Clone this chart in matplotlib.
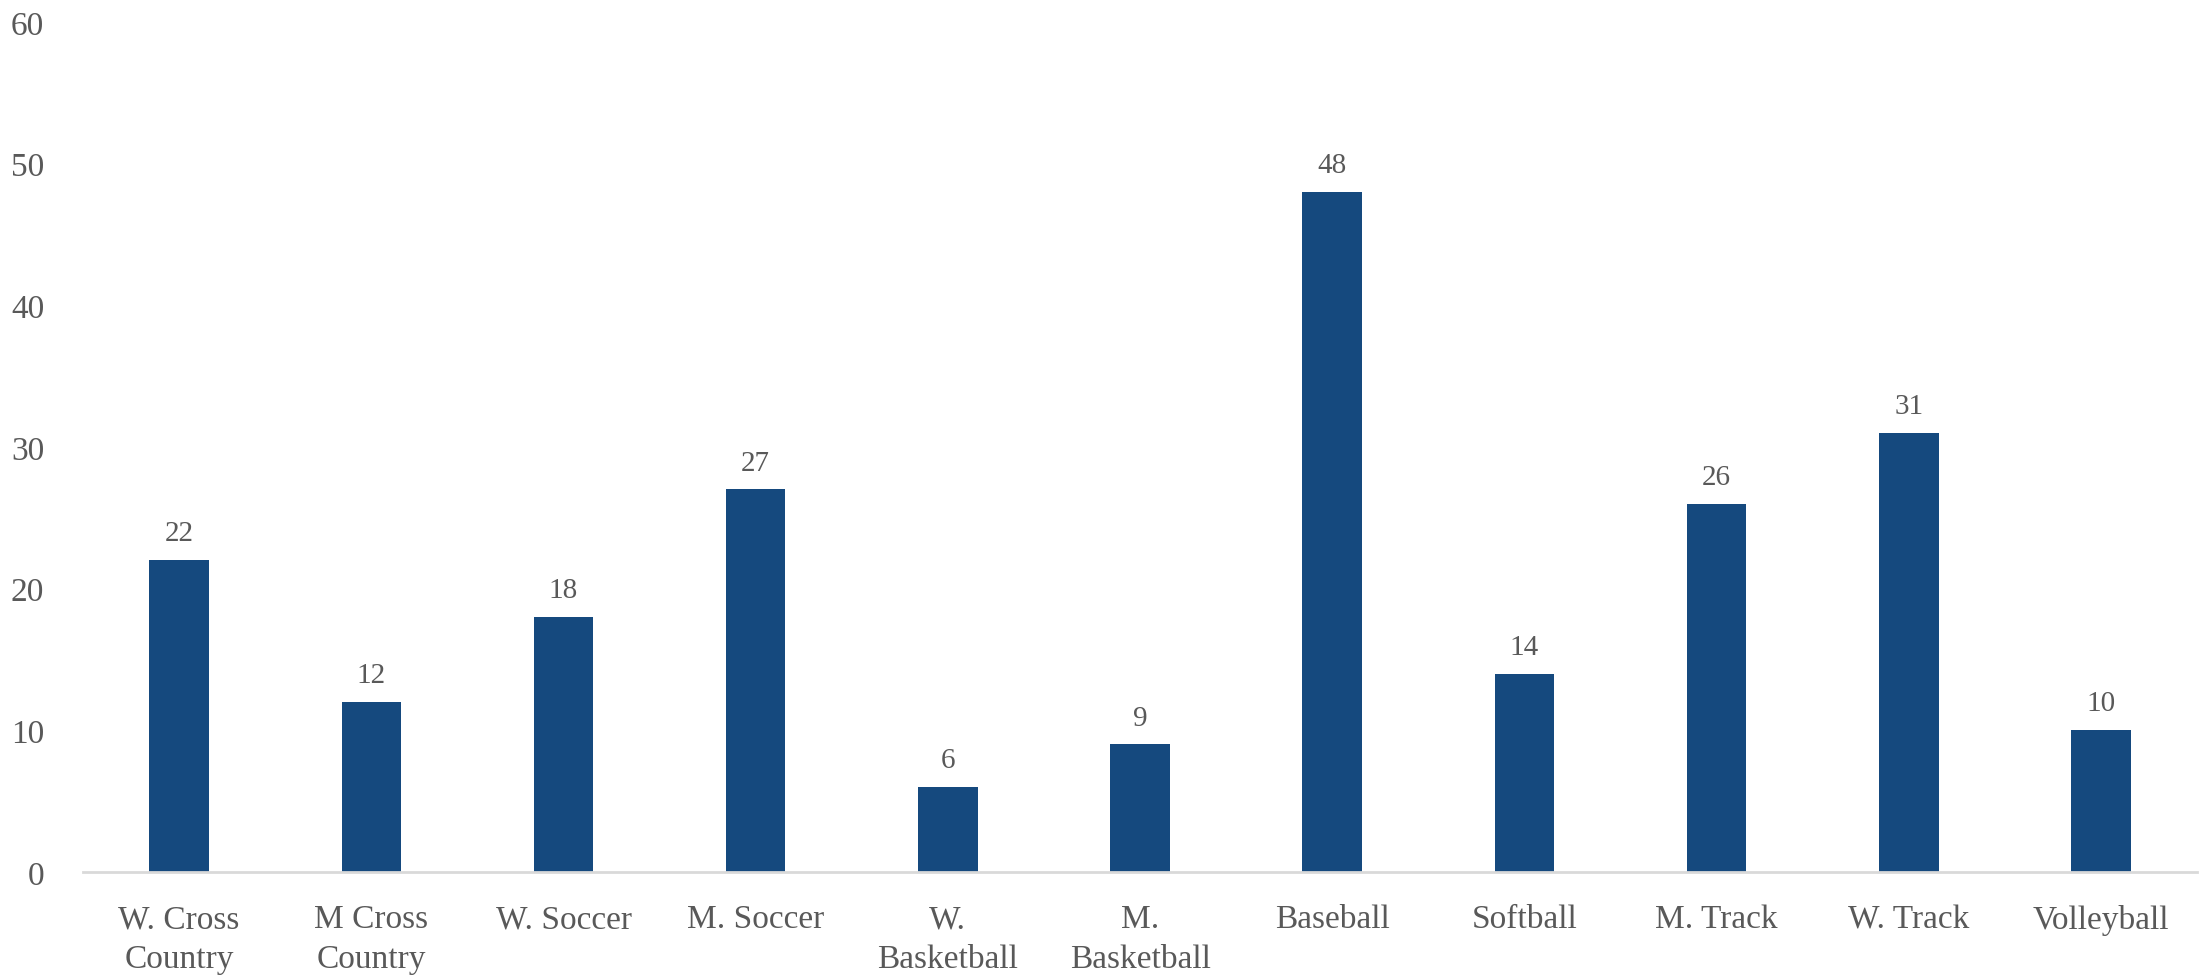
import numpy as np
import matplotlib.pyplot as plt

categories = [
    "W. Cross\nCountry", "M Cross\nCountry", "W. Soccer", "M. Soccer",
    "W.\nBasketball", "M.\nBasketball", "Baseball", "Softball",
    "M. Track", "W. Track", "Volleyball",
]
values = [22, 12, 18, 27, 6, 9, 48, 14, 26, 31, 10]
y_ticks = [0, 10, 20, 30, 40, 50, 60]

bar_color = "#15497E"
text_color = "#595959"

plt.rcParams["font.family"] = ["Liberation Serif", "DejaVu Serif"]

fig = plt.figure(figsize=(22.03, 9.79), dpi=100)
ax = fig.add_axes([0.0377, 0.1083, 0.9596, 0.8682])

x = np.arange(len(categories))
bars = ax.bar(x, values, width=0.31, color=bar_color, zorder=2)

for rect, v in zip(bars, values):
    ax.annotate(
        str(v),
        (rect.get_x() + rect.get_width() / 2, rect.get_height()),
        xytext=(0, 10),
        textcoords="offset points",
        ha="center",
        va="bottom",
        fontsize=21,
        color=text_color,
    )

ax.set_xlim(-0.5, len(categories) - 0.5)
ax.set_ylim(0, 60)
ax.set_yticks(y_ticks)
ax.set_xticks(x)
ax.set_xticklabels(categories, fontsize=24, color=text_color, linespacing=1.4)
ax.tick_params(axis="y", labelsize=24, labelcolor=text_color, length=0, pad=28)
ax.tick_params(axis="x", length=0, pad=23)
for lbl in ax.get_yticklabels():
    lbl.set_horizontalalignment("right")

for side in ["top", "right", "left"]:
    ax.spines[side].set_visible(False)
ax.spines["bottom"].set_color("#D9D9D9")
ax.spines["bottom"].set_linewidth(2)

fig.savefig("out.png", dpi=100)
